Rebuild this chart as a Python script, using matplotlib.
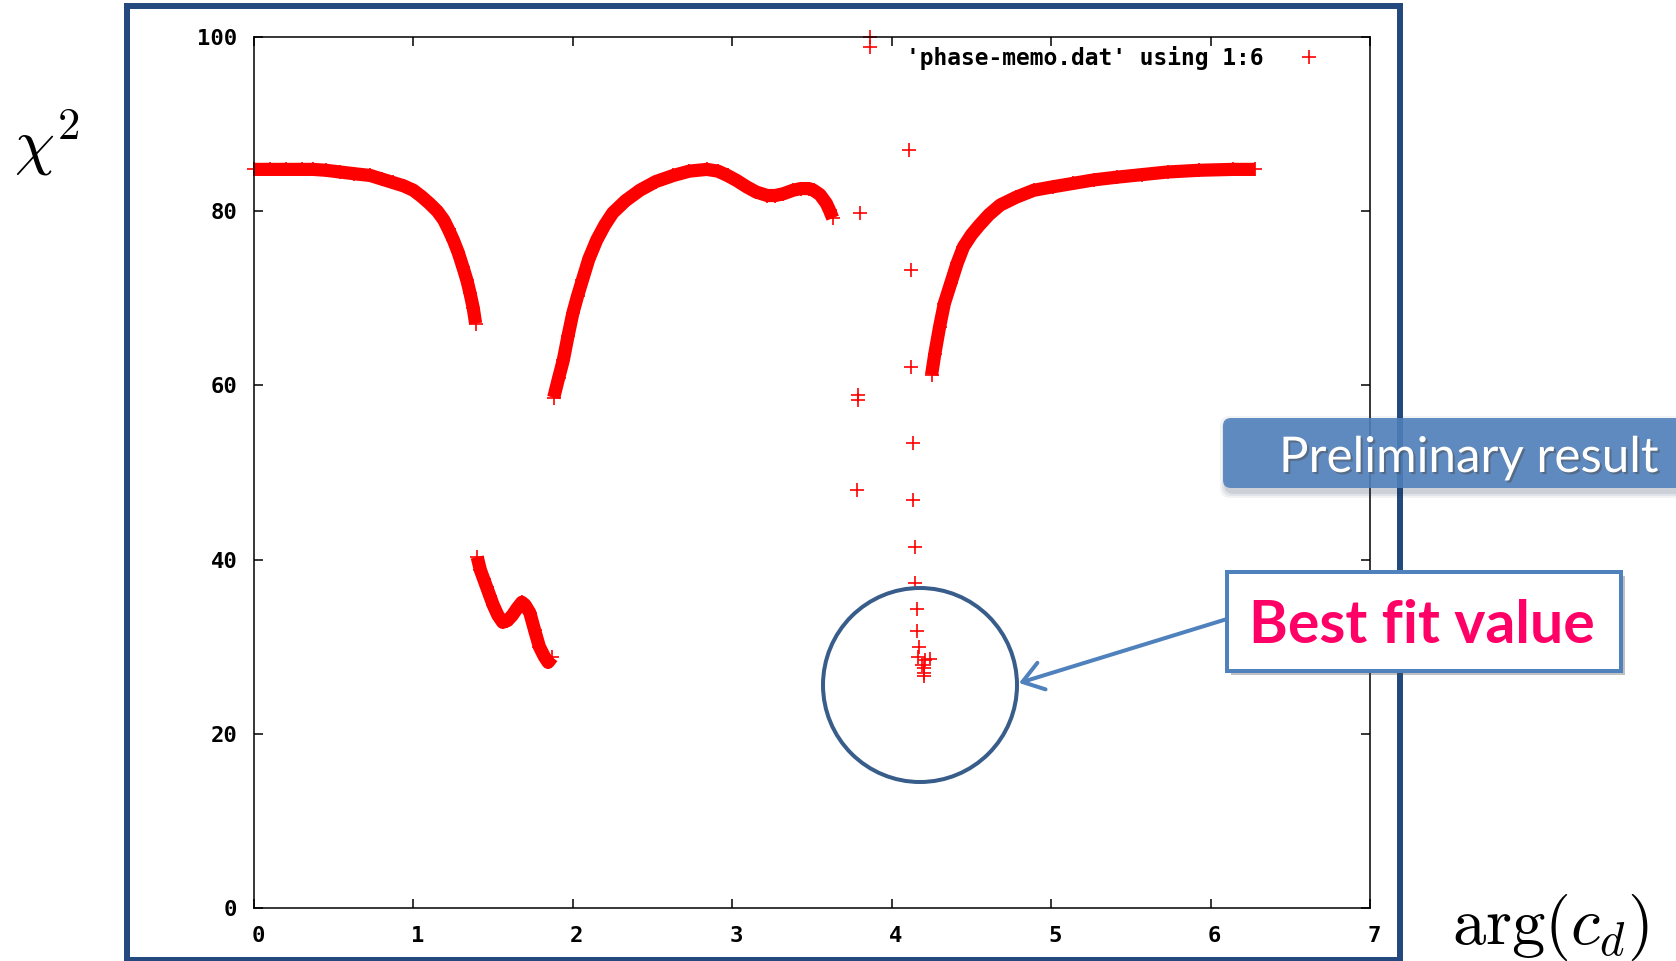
import matplotlib
matplotlib.use("Agg")
import matplotlib.pyplot as plt
from matplotlib import patches, patheffects
from matplotlib.transforms import ScaledTranslation

plt.rcParams['mathtext.fontset'] = 'cm'

# chi^2 scan against arg(c_d), columns 1:6 of phase-memo.dat
seg1_x = [0.0, 0.1, 0.2, 0.3, 0.37, 0.45, 0.54, 0.63, 0.73, 0.80, 0.87, 0.94, 1.0, 1.05,
          1.10, 1.15, 1.19, 1.22, 1.25, 1.28, 1.31, 1.335, 1.355, 1.375, 1.39]
seg1_y = [84.8, 84.8, 84.8, 84.8, 84.8, 84.7, 84.5, 84.3, 84.1, 83.7, 83.3, 82.9, 82.4, 81.7,
          80.9, 80.0, 79.0, 77.9, 76.7, 75.3, 73.6, 72.1, 70.6, 68.9, 67.1]

seg2_x = [1.40, 1.42, 1.44, 1.46, 1.48, 1.50, 1.53, 1.56, 1.59, 1.62, 1.65, 1.68, 1.70,
          1.73, 1.76, 1.79, 1.82, 1.845, 1.87]
seg2_y = [40.3, 38.8, 37.8, 36.8, 35.8, 34.8, 33.6, 32.8, 33.0, 33.6, 34.4, 35.1, 34.8,
          33.9, 31.9, 30.0, 28.9, 28.2, 28.8]

seg3_x = [1.88, 1.91, 1.94, 1.97, 2.00, 2.03, 2.06, 2.10, 2.15, 2.20, 2.25, 2.33, 2.42, 2.52,
          2.63, 2.73, 2.84, 2.91, 2.97, 3.03, 3.09, 3.15, 3.22, 3.27, 3.32, 3.38, 3.43, 3.48,
          3.51, 3.55, 3.59, 3.61, 3.63]
seg3_y = [58.6, 60.8, 62.9, 65.7, 68.3, 70.3, 72.1, 74.5, 76.7, 78.4, 79.8, 81.2, 82.4, 83.4,
          84.1, 84.6, 84.8, 84.6, 84.1, 83.5, 82.8, 82.2, 81.8, 81.8, 82.0, 82.4, 82.6, 82.6,
          82.4, 81.9, 80.9, 80.1, 79.2]

seg4_x = [4.25, 4.27, 4.30, 4.33, 4.37, 4.41, 4.45, 4.50, 4.55, 4.61, 4.68, 4.78, 4.89, 5.01,
          5.14, 5.27, 5.41, 5.57, 5.73, 5.93, 6.14, 6.28]
seg4_y = [61.2, 63.6, 66.7, 69.4, 71.7, 74.0, 75.9, 77.3, 78.4, 79.6, 80.7, 81.6, 82.4, 82.8,
          83.2, 83.6, 83.9, 84.2, 84.5, 84.7, 84.8, 84.8]

# isolated points between the branches
scat_x = [3.78, 3.79, 3.79, 3.80, 3.865, 3.865, 4.11, 4.12, 4.12, 4.135, 4.135, 4.147,
          4.147, 4.16, 4.16, 4.17, 4.165, 4.19, 4.20, 4.20, 4.20, 4.21, 4.24]
scat_y = [48.0, 58.9, 58.3, 79.8, 100.0, 98.8, 87.0, 73.2, 62.1, 53.4, 46.8, 41.4,
          37.3, 34.3, 31.8, 30.0, 28.8, 27.9, 27.5, 27.0, 26.6, 28.5, 28.6]

x_ticks = [0, 1, 2, 3, 4, 5, 6, 7]
y_ticks = [0, 20, 40, 60, 80, 100]
key_label = "'phase-memo.dat' using 1:6"

W, H = 1676, 961
fig = plt.figure(figsize=(W / 100, H / 100), dpi=100)
ax = fig.add_axes([254 / W, (H - 908) / H, (1370 - 254) / W, (908 - 37) / H])

red = '#ff0000'
for sx, sy in [(seg1_x, seg1_y), (seg2_x, seg2_y), (seg3_x, seg3_y), (seg4_x, seg4_y)]:
    ax.plot(sx, sy, color=red, lw=9.5, solid_capstyle='butt', solid_joinstyle='round', clip_on=False)
    ax.plot(sx, sy, '+', color=red, ms=10, mew=1.2, clip_on=False)
ax.plot(scat_x, scat_y, '+', color=red, ms=10, mew=1.2, clip_on=False, label=key_label)

ax.set_xlim(0, 7)
ax.set_ylim(0, 100)
ax.set_xticks(x_ticks)
ax.set_yticks(y_ticks)
mono = dict(family='DejaVu Sans Mono', weight='bold', size=16)
ax.set_xticklabels([str(v) for v in x_ticks], **mono)
ax.set_yticklabels([str(v) for v in y_ticks], **mono)
ax.tick_params(direction='in', length=6.5, width=1.1, top=True, right=True)
ax.tick_params(axis='y', pad=12)
ax.tick_params(axis='x', pad=13)
for lab in ax.get_xticklabels():
    lab.set_transform(lab.get_transform() + ScaledTranslation(4 / 100, 0, fig.dpi_scale_trans))
for sp in ax.spines.values():
    sp.set_linewidth(1.1)

ax.legend(loc='upper right', bbox_to_anchor=(0.956, 0.99), frameon=False, markerfirst=False,
          handlelength=1.0, handletextpad=1.5, borderpad=0, borderaxespad=0,
          prop=dict(family='DejaVu Sans Mono', weight='bold', size=16.5))

# slide decorations, drawn in pixel coordinates
ov = fig.add_axes([0, 0, 1, 1])
ov.set_xlim(0, W)
ov.set_ylim(H, 0)
ov.axis('off')

px = 0.72
ov.add_patch(patches.Rectangle((127, 6), 1400 - 127, 960 - 6, fill=False, ec='#23497e', lw=6 * px))

ov.text(14, 164, r'$\chi^2$', fontsize=46, ha='left', va='baseline')
ov.text(1452, 944, r'$\arg(c_d)$', fontsize=48, ha='left', va='baseline')

# banner
for i, a in enumerate([0.06, 0.08, 0.1]):
    g = 6 - 2 * i
    ov.add_patch(patches.FancyBboxPatch((1223 - g + 3, 418 - g + 4), 470 + 2 * g, 70 + 2 * g,
                                        boxstyle='round,pad=0,rounding_size=10',
                                        fc='#1f3350', ec='none', alpha=a))
ov.add_patch(patches.FancyBboxPatch((1223, 418), 470, 70, boxstyle='round,pad=0,rounding_size=8',
                                    fc='#4f81bd', ec='none', alpha=0.88))
ov.text(1279, 472, 'Preliminary result', family='Lato', fontsize=35.5, color='white',
        ha='left', va='baseline',
        path_effects=[patheffects.withSimplePatchShadow(offset=(1.5, -1.5), alpha=0.5)])

# circle around the minimum and the arrow to it
ov.add_patch(patches.Circle((920, 685), 97, fill=False, ec='#385d8a', lw=4 * px))
ov.annotate('', xy=(1019, 683), xytext=(1227, 619),
            arrowprops=dict(arrowstyle='->,head_length=0.72,head_width=0.5', mutation_scale=20,
                            color='#4f81bd', lw=4 * px, shrinkA=0, shrinkB=0))

box = patches.Rectangle((1227, 572), 394, 99, fc='white', ec='#4f81bd', lw=4 * px)
box.set_path_effects([patheffects.withSimplePatchShadow(offset=(3, -3), alpha=0.35), patheffects.Normal()])
ov.add_patch(box)
ov.text(1249, 643, 'Best fit value', family='Lato', weight='bold', fontsize=42.5, color='#ff0066',
        ha='left', va='baseline')

fig.savefig('out.png', dpi=100)
